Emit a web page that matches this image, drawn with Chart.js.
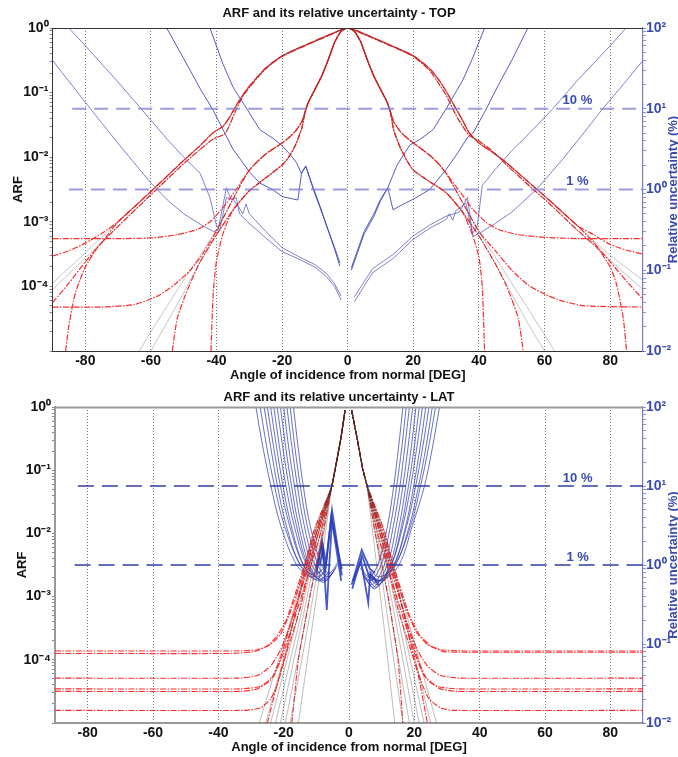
<!DOCTYPE html>
<html><head><meta charset="utf-8">
<script src="https://cdn.jsdelivr.net/npm/chart.js@4/dist/chart.umd.min.js"></script>
<style>html,body{margin:0;padding:0;background:#fff}canvas{display:block}</style>
</head><body>
<canvas id="cTop" width="678" height="383"></canvas>
<canvas id="cLat" width="678" height="374"></canvas>
<script>
// ---------- tick labels / categories ----------
const xTickValues = [-80, -60, -40, -20, 0, 20, 40, 60, 80];
const titleTop = 'ARF and its relative uncertainty - TOP';
const titleLat = 'ARF and its relative uncertainty - LAT';
const xTitle = 'Angle of incidence from normal [DEG]';
const yTitle = 'ARF';
const y2Title = 'Relative uncertainty (%)';
const pctLabels = [{text: '10 %', x: 70, e: 1}, {text: '1 %', x: 70, e: 0}];

// ---------- TOP: ARF (log10 ARF) ----------
const topWide1 = [[-90,-3.95],[-80,-3.48],[-70,-3.0],[-60,-2.53],[-50,-2.05],[-45,-1.82],[-41,-1.62],[-38,-1.52],[-36,-1.38],[-34,-1.2],[-32,-1.04],[-30,-0.9],[-25,-0.62],[-20,-0.43],[-15,-0.31],[-10,-0.2],[-5,-0.09],[0,0],[5,-0.09],[10,-0.2],[15,-0.31],[20,-0.43],[25,-0.63],[28,-0.82],[30,-0.98],[33,-1.25],[35,-1.43],[37,-1.62],[40,-1.78],[44,-1.92],[48,-2.07],[57,-2.47],[60,-2.6],[70,-3.06],[80,-3.52],[90,-3.9]];
const topWide2 = [[-90,-4.05],[-80,-3.56],[-70,-3.07],[-60,-2.58],[-50,-2.1],[-45,-1.88],[-41,-1.72],[-37.5,-1.64],[-36,-1.5],[-34,-1.26],[-32,-1.06],[-30,-0.92],[-25,-0.63],[-20,-0.44],[-15,-0.32],[-10,-0.21],[-5,-0.1],[0,0],[5,-0.1],[10,-0.21],[15,-0.32],[20,-0.44],[25,-0.66],[28,-0.88],[30,-1.04],[33,-1.35],[35,-1.52],[37,-1.66],[40,-1.75],[44,-1.9],[48,-2.1],[57,-2.52],[60,-2.65],[70,-3.13],[80,-3.6],[90,-4.05]];
const topNarrow1 = [[-63.5,-5],[-60,-4.7],[-55,-4.3],[-50,-3.9],[-45,-3.52],[-40,-3.12],[-35,-2.65],[-30,-2.2],[-25,-1.95],[-20,-1.78],[-18,-1.7],[-16,-1.6],[-14,-1.45],[-13,-1.3],[-12,-1.15],[-10,-0.95],[-8,-0.75],[-6,-0.5],[-4,-0.22],[-2,-0.05],[0,0],[2,-0.05],[4,-0.22],[6,-0.5],[8,-0.75],[10,-0.95],[12,-1.15],[13,-1.3],[14,-1.45],[16,-1.6],[18,-1.7],[20,-1.78],[25,-1.97],[28,-2.12],[30,-2.25],[35,-2.7],[40,-3.15],[45,-3.55],[50,-3.95],[55,-4.35],[60,-4.75],[63,-5]];
const topNarrow2 = [[-60,-5],[-55,-4.55],[-50,-4.1],[-45,-3.62],[-40,-3.2],[-35,-2.82],[-30,-2.52],[-25,-2.32],[-20,-2.12],[-18,-2.0],[-16,-1.82],[-14,-1.55],[-13,-1.3],[-12,-1.15],[-10,-0.95],[-8,-0.75],[-6,-0.5],[-4,-0.22],[-2,-0.05],[0,0],[2,-0.05],[4,-0.22],[6,-0.5],[8,-0.75],[10,-0.95],[12,-1.15],[13,-1.3],[14,-1.58],[16,-1.85],[18,-2.05],[20,-2.2],[25,-2.38],[30,-2.55],[35,-2.85],[40,-3.22],[45,-3.65],[50,-4.12],[55,-4.58],[60,-5]];

// red dash-dot variants: tails, joined to a core
const tailA_L = [[-90,-3.26],[-70,-3.26],[-60,-3.25],[-52,-3.2],[-46,-3.12],[-42,-3.0],[-38,-2.78],[-34,-2.5]];
const tailA_R = [[34,-2.52],[38,-2.8],[42,-3.0],[46,-3.12],[52,-3.2],[60,-3.24],[70,-3.26],[90,-3.26]];
const tailB_L = [[-90,-4.32],[-75,-4.32],[-65,-4.28],[-58,-4.15],[-53,-3.98],[-48,-3.75],[-44,-3.48],[-40,-3.14]];
const tailB_R = [[40,-3.15],[45,-3.45],[50,-3.75],[55,-3.98],[60,-4.12],[65,-4.22],[72,-4.3],[90,-4.32]];
const tailC_L = [[-41.7,-5],[-41,-4.1],[-40,-3.6],[-38,-3.18]];
const tailC_R = [[38,-3.2],[40,-3.55],[41,-4.0],[41.7,-5]];
const tailD_L = [[-53.5,-5],[-52,-4.5],[-50,-4.2],[-48,-3.95]];
const tailD_R = [[48,-3.95],[50,-4.2],[52,-4.5],[53.5,-5]];
const tailE_L = [[-90,-3.53],[-85,-3.45],[-80,-3.33],[-75,-3.18]];
const tailE_R = [[75,-3.2],[80,-3.35],[85,-3.44],[90,-3.5]];
const tailF_L = [[-86,-5],[-85,-4.6],[-83,-4.1],[-80,-3.7],[-76,-3.38]];
const tailF_R = [[76,-3.4],[80,-3.7],[82,-3.98],[84,-4.5],[85,-5]];
const tailG_L = [[-90,-4.25],[-85,-3.95],[-80,-3.62],[-75,-3.32]];
const tailG_R = [[75,-3.32],[80,-3.62],[85,-3.92],[90,-4.2]];

// ---------- TOP: relative uncertainty (log10 %) ----------
const topUncA = [[-90,1.6],[-80,1.08],[-70,0.57],[-60,0.08],[-55,-0.13],[-50,-0.3],[-45,-0.43],[-41,-0.52],[-39.5,-0.5],[-37,0.02],[-35.5,-0.13],[-34,-0.1],[-33,-0.3],[-30,-0.42],[-25,-0.6],[-20,-0.77],[-15,-0.86],[-10,-0.96],[-6.5,-1.08],[-4,-1.2],[-2,-1.37],[null,null],[2,-1.39],[7.6,-1.03],[14,-0.85],[19.8,-0.62],[25,-0.48],[30,-0.37],[31,-0.3],[32,-0.38],[33,-0.26],[36,-0.17],[38.2,-0.58],[40.2,-0.54],[45,-0.42],[50,-0.28],[57.5,0],[65,0.35],[70,0.6],[77.7,1.0],[85,1.35],[90,1.6]];
const topUncB = [[-85,2],[-80,1.78],[-70,1.33],[-63,1.0],[-55,0.62],[-50,0.4],[-45,0.2],[-42,-0.1],[-40,-0.45],[-39,-0.5],[-37,-0.1],[-35,-0.12],[-33.5,-0.2],[-32,-0.3],[-31,-0.18],[-30,-0.3],[-25,-0.52],[-20,-0.72],[-15,-0.83],[-10,-0.93],[-6.5,-1.04],[-4,-1.17],[-2,-1.32],[null,null],[2,-1.33],[7.6,-0.98],[14,-0.8],[19.8,-0.58],[25,-0.44],[30,-0.33],[34,-0.28],[36.5,-0.1],[38,-0.55],[39.5,-0.45],[41,0.05],[45,0.25],[50,0.48],[55,0.68],[62.5,1.0],[70,1.35],[80,1.78],[84.8,2]];
const topUncC = [[-55.2,2],[-50,1.62],[-45,1.25],[-41,0.98],[-38,0.74],[-35,0.5],[-30,0.22],[-26.8,0.08],[-23,0],[-19.8,-0.09],[-15.2,-0.13],[-14.1,0.2],[-12.8,0.29],[-10.5,0],[-8.5,-0.22],[-6,-0.5],[-4,-0.72],[-2.4,-0.91],[null,null],[1.1,-1.0],[3,-0.78],[5,-0.55],[8,-0.33],[10,-0.14],[12.2,0.02],[13.8,-0.25],[17,-0.18],[20,-0.12],[25,0],[30,0.25],[33,0.42],[36.6,0.65],[38.2,0.7],[42,0.98],[46,1.3],[50,1.6],[54.9,2]];
const topUncD = [[-42,2],[-38,1.55],[-35,1.27],[-30,0.95],[-26.8,0.74],[-23,0.64],[-20.2,0.55],[-17.5,0.43],[-15.6,0.33],[-14.1,0.2],[-12.8,0.29],[-10.5,0.02],[-8.5,-0.2],[-6,-0.5],[-4,-0.74],[-2.4,-0.95],[null,null],[1.1,-0.97],[3,-0.75],[5,-0.52],[8,-0.3],[10,-0.12],[12.2,0.02],[15,0.3],[18.9,0.55],[22,0.62],[26,0.74],[30,1.0],[35,1.35],[38,1.62],[41.7,2]];
const topLevel10 = [[-84,1],[90,1]];
const topLevel1 = [[-85,0],[90,0]];

// ---------- LAT: ARF (log10 ARF) ----------
const latCenter = [[-5.3,-1.26],[-4.3,-1.0],[-2.5,-0.5],[-1.2,-0.05],[0,null],[0.8,-0.05],[2.5,-0.5],[4.2,-0.98],[5.4,-1.22]];
const latBlackL = [
  [[-15.5,-5],[-10.5,-3.2],[-7.5,-2.1]],
  [[-18,-5],[-12,-3.3],[-8,-2.08]],
  [[-19.5,-5],[-13,-3.3],[-8.5,-2.05]],
  [[-21,-5],[-14,-3.3],[-9,-2.05]],
  [[-22.5,-5],[-15,-3.35],[-9.5,-2.02]],
  [[-24,-5],[-16,-3.38],[-10,-2.0]],
  [[-25.5,-5],[-17,-3.4],[-10.5,-2.0]],
  [[-27.5,-5],[-18,-3.4],[-11,-2.0]]
];
const latBlackR = [
  [[8,-2.3],[11,-3.6],[14,-5]],
  [[8,-1.95],[12,-3.4],[16.5,-5]],
  [[8.5,-1.98],[13,-3.35],[18.5,-5]],
  [[9,-2.0],[14,-3.3],[20,-5]],
  [[9.5,-2.0],[15,-3.32],[21.5,-5]],
  [[10,-2.0],[16,-3.35],[23,-5]],
  [[10.5,-2.0],[17,-3.3],[25,-5]],
  [[11,-2.0],[18,-3.35],[26.8,-5]]
];
const latRedL = [
  [[-90,-3.86],[-35,-3.86],[-28,-3.84],[-24,-3.76],[-21,-3.6],[-18,-3.25],[-10,-2.0]],
  [[-90,-3.9],[-36,-3.9],[-29,-3.87],[-25,-3.78],[-22,-3.62],[-19,-3.35],[-10.5,-2.0]],
  [[-90,-4.29],[-34,-4.29],[-28,-4.25],[-24,-4.1],[-21,-3.85],[-18,-3.45],[-9.5,-2.02]],
  [[-90,-4.46],[-33,-4.46],[-27,-4.42],[-23,-4.25],[-20.5,-3.95],[-17,-3.4],[-9,-2.05]],
  [[-90,-4.5],[-33,-4.5],[-28,-4.46],[-24,-4.32],[-21.5,-4.05],[-18.5,-3.55],[-10,-2.0]],
  [[-90,-4.8],[-32,-4.8],[-27,-4.76],[-24,-4.62],[-22,-4.4],[-19.5,-3.95],[-11,-2.0]],
  [[-17.5,-5],[-15.5,-4.0],[-12,-3.0],[-8,-2.0]],
  [[-25,-5],[-21,-4.2],[-15,-3.2],[-10,-2.1]]
];
const latRedR = [
  [[10,-2.0],[17.5,-3.2],[20.5,-3.55],[24,-3.76],[28,-3.84],[35,-3.86],[90,-3.86]],
  [[10.5,-2.0],[18.5,-3.3],[21.5,-3.6],[25,-3.78],[29,-3.87],[36,-3.88],[90,-3.88]],
  [[9.5,-2.0],[18,-3.45],[21,-3.85],[24,-4.1],[28,-4.25],[34,-4.29],[90,-4.29]],
  [[9,-2.05],[17,-3.4],[20.5,-3.95],[23,-4.25],[27,-4.42],[33,-4.46],[90,-4.46]],
  [[10,-2.0],[18.5,-3.55],[21.5,-4.05],[24,-4.32],[28,-4.46],[33,-4.5],[90,-4.5]],
  [[11,-2.0],[20,-4.0],[22.5,-4.4],[24.5,-4.62],[28,-4.76],[32,-4.8],[90,-4.8]],
  [[8,-2.0],[12,-3.0],[15,-4.0],[16.5,-5]],
  [[10,-2.1],[15,-3.2],[21,-4.2],[24,-5]]
];

// ---------- LAT: relative uncertainty (log10 %) ----------
const latUncR = [
  [[3,0.03],[6,-0.15],[8.8,0],[11.8,0.5],[13.7,1],[15.2,1.5],[16.5,2]],
  [[3.5,-0.04],[6.5,-0.2],[9.8,0],[12.7,0.5],[14.6,1],[16.2,1.5],[17.5,2]],
  [[4,-0.1],[7,-0.25],[10.8,0],[13.6,0.5],[15.6,1],[17.1,1.5],[18.5,2]],
  [[4.5,-0.14],[7.5,-0.28],[11.7,0],[14.5,0.5],[16.5,1],[18.1,1.5],[19.5,2]],
  [[5,-0.17],[8,-0.3],[12.5,0],[15.4,0.5],[17.4,1],[19.1,1.5],[20.5,2]],
  [[5.5,-0.16],[8.5,-0.28],[13,0],[16.1,0.5],[18.2,1],[20,1.5],[21.5,2]],
  [[5.5,-0.12],[8.5,-0.22],[12.9,0],[16.5,0.5],[18.9,1],[20.8,1.5],[22.5,2]],
  [[6,-0.15],[9,-0.25],[13.8,0],[17.4,0.5],[19.8,1],[21.8,1.5],[23.5,2]],
  [[6,-0.12],[9,-0.2],[13.7,0],[17.7,0.5],[20.4,1],[22.6,1.5],[24.5,2]],
  [[6.5,-0.12],[9.5,-0.2],[14.3,0],[18.5,0.5],[21.3,1],[23.6,1.5],[25.5,2]],
  [[6.5,-0.08],[9.5,-0.15],[14,0],[18.9,0.5],[21.9,1],[24.4,1.5],[26.5,2]],
  [[7,-0.14],[10,-0.2],[15.3,0],[19.4,0.5],[23.1,1],[25.6,1.5],[27.7,2]]
];
const latUncL = [
  [[-17,2],[-15.6,1.5],[-14,1],[-11.9,0.5],[-8.4,0],[-6,-0.1],[-3,0.06]],
  [[-18,2],[-16.6,1.5],[-14.9,1],[-12.8,0.5],[-9.5,0],[-6.5,-0.15],[-3.5,0]],
  [[-19,2],[-17.5,1.5],[-15.8,1],[-13.7,0.5],[-10.5,0],[-7,-0.18],[-4,-0.04]],
  [[-20,2],[-18.5,1.5],[-16.7,1],[-14.6,0.5],[-11.3,0],[-7.5,-0.2],[-4.5,-0.07]],
  [[-21,2],[-19.4,1.5],[-17.6,1],[-15.4,0.5],[-12.1,0],[-8,-0.22],[-5,-0.1]],
  [[-22,2],[-20.3,1.5],[-18.4,1],[-16.1,0.5],[-12.6,0],[-8.5,-0.2],[-5.5,-0.09]],
  [[-23,2],[-21.3,1.5],[-19.3,1],[-16.8,0.5],[-13,0],[-9,-0.18],[-6,-0.08]],
  [[-24,2],[-22.2,1.5],[-20.2,1],[-17.7,0.5],[-13.9,0],[-9.5,-0.2],[-6.5,-0.11]],
  [[-25,2],[-23.1,1.5],[-21,1],[-18.2,0.5],[-14,0],[-10,-0.15],[-7,-0.06]],
  [[-26,2],[-24,1.5],[-21.9,1],[-19.2,0.5],[-15,0],[-10.5,-0.18],[-7.5,-0.1]],
  [[-27.2,2],[-25.2,1.5],[-22.8,1],[-19.8,0.5],[-14.9,0],[-11,-0.12],[-8,-0.05]],
  [[-28.5,2],[-26.4,1.5],[-23.9,1],[-20.9,0.5],[-16,0],[-11.5,-0.15],[-8.5,-0.08]]
];
const latZigzag = [
  [[-10,-0.1],[-8.3,0.32],[-7,0.02],[-5.2,0.7],[-2.2,-0.13]],
  [[-10,-0.05],[-8.5,0.25],[-7.2,-0.05],[-5.4,0.62],[-2.4,-0.2]],
  [[-9,0.0],[-8,0.2],[-6.8,-0.57],[-6.2,-0.1],[-5.2,0.55],[-2.2,-0.05]],
  [[0.8,-0.25],[3.9,0.19],[6.4,-0.05],[8,-0.1]],
  [[1,-0.3],[4,0.12],[6.2,-0.15],[8.5,-0.2]],
  [[1.2,-0.2],[3.7,0.05],[5.9,-0.48],[6.5,-0.1],[9,-0.25]]
];
const latLevel10 = [[-83,1],[90,1]];
const latLevel1 = [[-84,0],[90,0]];

// ---------- helpers ----------
const FONT = "'Liberation Sans', Arial, Helvetica, sans-serif";
Chart.defaults.font.family = FONT;
const SUP = {'-':'\u207B','0':'\u2070','1':'\u00B9','2':'\u00B2','3':'\u00B3','4':'\u2074','5':'\u2075','6':'\u2076','7':'\u2077','8':'\u2078','9':'\u2079'};
const sup = n => String(n).split('').map(c => SUP[c]).join('');
const toPts = arr => arr.map(([x, e]) => ({x: x, y: (e === null ? null : Math.pow(10, e))}));
const core = (arr, lim) => arr.filter(p => Math.abs(p[0]) <= lim);
const join = (...parts) => [].concat(...parts);

function line(data, color, width, dash, axis, tension) {
  return {data: toPts(data), borderColor: color, borderWidth: width, borderDash: dash || [],
    yAxisID: axis, pointRadius: 0, fill: false, tension: tension || 0, spanGaps: false};
}
function decadeTicks(lo, hi) {
  const t = [];
  for (let e = lo; e <= hi; e++) for (let m = 1; m <= 9; m++) {
    if (e === hi && m > 1) break;
    t.push({value: m * Math.pow(10, e)});
  }
  return t;
}
function powLabel(minExp) {
  return v => {
    const e = Math.log10(v), r = Math.round(e);
    if (Math.abs(e - r) > 1e-6 || r < minExp) return '';
    return '10' + sup(r);
  };
}

const decor = {
  id: 'decor',
  afterDraw(chart, args, o) {
    const {ctx, chartArea: a, scales} = chart;
    ctx.save();
    ctx.strokeStyle = o.frameColor; ctx.lineWidth = o.frameWidth;
    ctx.beginPath(); ctx.moveTo(a.left, a.top + 0.5); ctx.lineTo(a.right, a.top + 0.5); ctx.stroke();
    ctx.fillStyle = o.blue; ctx.font = 'bold 13px ' + FONT;
    ctx.textAlign = 'center'; ctx.textBaseline = 'middle';
    o.labels.forEach(l => {
      ctx.fillText(l.text, scales.x.getPixelForValue(l.x), scales.y2.getPixelForValue(Math.pow(10, l.e)) - 8);
    });
    ctx.translate(o.rightTitleX, (a.top + a.bottom) / 2);
    ctx.rotate(-Math.PI / 2);
    ctx.font = 'bold 13px ' + FONT;
    ctx.fillText(o.rightTitle, 0, 0);
    ctx.restore();
  }
};

function makeChart(id, p) {
  return new Chart(document.getElementById(id), {
    type: 'line',
    data: {datasets: p.datasets},
    plugins: [decor],
    options: {
      responsive: false, animation: false, devicePixelRatio: 1,
      layout: {padding: 0},
      plugins: {
        legend: {display: false}, tooltip: {enabled: false},
        title: {display: true, text: p.title, color: '#111', font: {size: 13, weight: 'bold'},
          padding: {top: p.titleTop, bottom: p.titleBottom}},
        decor: {blue: '#3a4ab3', labels: pctLabels, rightTitle: y2Title, rightTitleX: 673,
          frameColor: p.frameColor, frameWidth: p.frameWidth}
      },
      scales: {
        x: {type: 'linear', min: -90, max: 90,
          afterBuildTicks: s => { s.ticks = xTickValues.map(v => ({value: v})); },
          afterFit: s => { s.height = p.xHeight; },
          grid: {display: true, drawTicks: false, color: '#555', lineWidth: 0.8},
          border: {display: true, color: p.frameColor, width: p.frameWidth, dash: [1, 2]},
          ticks: {color: '#111', padding: 2, maxRotation: 0, autoSkip: false, font: {size: 14, weight: 'bold'}},
          title: {display: true, text: xTitle, color: '#111', font: {size: 13, weight: 'bold'},
            padding: {top: 0, bottom: p.xTitlePad}}
        },
        y: {type: 'logarithmic', position: 'left', min: 1e-5, max: 1,
          afterBuildTicks: s => { s.ticks = decadeTicks(-5, 0); },
          afterFit: s => { s.width = p.leftWidth; },
          grid: {drawOnChartArea: false, drawTicks: true, tickLength: 3, tickColor: '#888'},
          border: {display: true, color: p.frameColor, width: p.frameWidth},
          ticks: {color: '#111', padding: 1, autoSkip: false, callback: powLabel(-4),
            font: {size: 14, weight: 'bold'}},
          title: {display: true, text: yTitle, color: '#111', font: {size: 13, weight: 'bold'},
            padding: {top: p.yTitlePad, bottom: 0}}
        },
        y2: {type: 'logarithmic', position: 'right', min: 1e-2, max: 1e2,
          afterBuildTicks: s => { s.ticks = decadeTicks(-2, 2); },
          afterFit: s => { s.width = 35; },
          grid: {drawOnChartArea: false, drawTicks: true, tickLength: 3, tickColor: '#8c8cd0'},
          border: {display: true, color: '#7a7acc', width: 1.2},
          ticks: {color: '#3a4ab3', padding: 0, autoSkip: false, callback: powLabel(-2),
            font: {size: 14, weight: 'bold'}}
        }
      }
    }
  });
}

// ---------- TOP datasets ----------
const BLACK = 'rgba(45,45,45,0.4)';
const RED = '#ff2b2b';
const DD = [6, 1.5, 1.5, 1.5];
const topBlue = 'rgba(85,85,195,0.75)';
const topSets = [
  line(topLevel10, 'rgba(130,130,215,0.8)', 2, [14, 8], 'y2'),
  line(topLevel1, 'rgba(130,130,215,0.8)', 2, [14, 8], 'y2'),
  line(topWide1, BLACK, 0.7, null, 'y', 0.2),
  line(topWide2, BLACK, 0.7, null, 'y', 0.2),
  line(topNarrow1, BLACK, 0.7, null, 'y', 0.2),
  line(topNarrow2, BLACK, 0.7, null, 'y', 0.2),
  line(join(tailA_L, core(topNarrow1, 30), tailA_R), RED, 1.2, DD, 'y', 0.2),
  line(join(tailB_L, core(topNarrow1, 35), tailB_R), RED, 1.2, DD, 'y', 0.2),
  line(join(tailC_L, core(topNarrow2, 35), tailC_R), RED, 1.2, DD, 'y', 0.2),
  line(join(tailD_L, core(topNarrow2, 45), tailD_R), RED, 1.2, DD, 'y', 0.2),
  line(join(tailE_L, core(topWide1, 70), tailE_R), RED, 1.2, DD, 'y', 0.2),
  line(join(tailF_L, core(topWide2, 70), tailF_R), RED, 1.2, DD, 'y', 0.2),
  line(join(tailG_L, core(topWide1, 70), tailG_R), RED, 1.2, DD, 'y', 0.2),
  line(topUncA, topBlue, 1, null, 'y2'),
  line(topUncB, topBlue, 1, null, 'y2'),
  line(topUncC, 'rgba(55,65,180,0.85)', 1, null, 'y2'),
  line(topUncD, 'rgba(55,65,180,0.85)', 1, null, 'y2')
];
makeChart('cTop', {title: titleTop, titleTop: 5.5, titleBottom: 6.9, xHeight: 32, xTitlePad: 0,
  leftWidth: 52.5, yTitlePad: 10.2, frameColor: '#333', frameWidth: 1, datasets: topSets});

// ---------- LAT datasets ----------
const latBlue = 'rgba(40,50,172,0.7)';
const latSets = [
  line(latLevel10, '#2f3fa8', 1.4, [16, 8], 'y2'),
  line(latLevel1, '#2f3fa8', 1.4, [16, 8], 'y2')
];
latBlackL.forEach((d, i) => latSets.push(line(join(d, latCenter, latBlackR[i]), BLACK, 0.8, null, 'y', 0.15)));
latRedL.forEach((d, i) => latSets.push(line(join(d, latCenter, latRedR[i]), RED, 1.1, DD, 'y', 0.15)));
latUncL.forEach(d => latSets.push(line(d, latBlue, 1, null, 'y2', 0.35)));
latUncR.forEach(d => latSets.push(line(d, latBlue, 1, null, 'y2', 0.35)));
latZigzag.forEach(d => latSets.push(line(d, 'rgba(40,60,190,0.85)', 1.8, null, 'y2')));
makeChart('cLat', {title: titleLat, titleTop: 6.3, titleBottom: 2.1, xHeight: 34, xTitlePad: 2,
  leftWidth: 55, yTitlePad: 14.5, frameColor: '#999', frameWidth: 2, datasets: latSets});
</script>
</body></html>
